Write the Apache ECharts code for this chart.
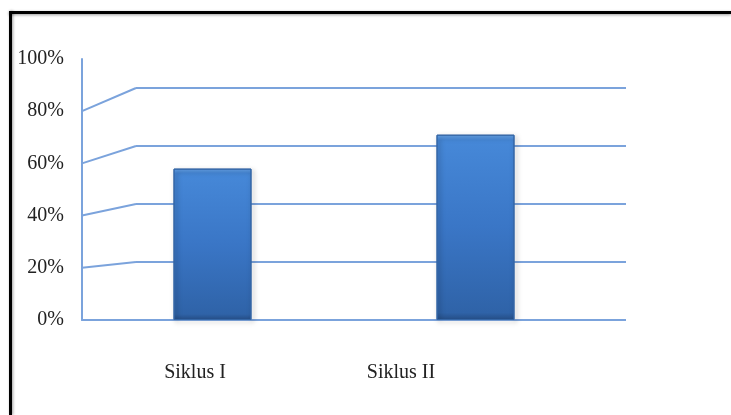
<!DOCTYPE html>
<html>
<head>
<meta charset="utf-8">
<script src="https://cdn.jsdelivr.net/npm/echarts@6/dist/echarts.min.js"></script>
<style>
html,body{margin:0;padding:0;background:#fff;}
#chart{width:731px;height:415px;}
</style>
</head>
<body>
<div id="chart"></div>
<script>
// Data
var categories = ['Siklus I', 'Siklus II'];
var values = [58, 71];
var yTicks = [0, 20, 40, 60, 80, 100];
var wallTicks = [20, 40, 60, 80];

// Layout constants
var FRONT_LEFT = 82, FRONT_TOP = 59, FRONT_H = 261, FRONT_W = 540;
var BACK_LEFT = 136, BACK_TOP = 88, BACK_H = 232, BACK_W = 490;
var LINE_COLOR = '#7ba3dc';
var FONT = '"Liberation Serif", "Times New Roman", serif';

var chart = echarts.init(document.getElementById('chart'), null, {renderer: 'canvas'});

var option = {
  animation: false,
  backgroundColor: '#ffffff',
  grid: [
    {left: FRONT_LEFT, top: FRONT_TOP, width: FRONT_W, height: FRONT_H},
    {left: BACK_LEFT, top: BACK_TOP, width: BACK_W, height: BACK_H},
    {left: 81, top: FRONT_TOP, width: 526, height: FRONT_H},
    {left: 92, top: 100, width: 412, height: 260}
  ],
  xAxis: [
    {gridIndex: 0, type: 'category', data: categories,
     axisLine: {show: true, lineStyle: {color: LINE_COLOR, width: 2}},
     axisTick: {show: false}, axisLabel: {show: false}, splitLine: {show: false}},
    {gridIndex: 1, type: 'category', data: categories, show: false},
    {gridIndex: 2, type: 'category', data: categories, show: false},
    {gridIndex: 3, type: 'category', data: categories,
     axisLine: {show: false}, axisTick: {show: false},
     axisLabel: {show: true, margin: 3, fontFamily: FONT, fontSize: 20, color: '#222'}}
  ],
  yAxis: [
    {gridIndex: 0, type: 'value', min: yTicks[0], max: yTicks[yTicks.length - 1], interval: 20,
     axisLine: {show: true, lineStyle: {color: LINE_COLOR, width: 2}},
     axisTick: {show: false}, splitLine: {show: false},
     axisLabel: {formatter: '{value}%', margin: 18, fontFamily: FONT, fontSize: 20, color: '#222'}},
    {gridIndex: 1, type: 'value', min: 0, max: 80, interval: 20,
     axisLine: {show: false}, axisTick: {show: false}, axisLabel: {show: false},
     splitLine: {show: true, lineStyle: {color: LINE_COLOR, width: 2}}},
    {gridIndex: 2, type: 'value', min: 0, max: 100, interval: 20, show: false},
    {gridIndex: 3, type: 'value', show: false}
  ],
  series: [{
    type: 'bar',
    xAxisIndex: 2, yAxisIndex: 2,
    data: values,
    barWidth: 78,
    itemStyle: {
      color: new echarts.graphic.LinearGradient(0, 0, 0, 1, [
        {offset: 0, color: '#6aa8ee'},
        {offset: 0.03, color: '#4688d8'},
        {offset: 0.5, color: '#3a76c6'},
        {offset: 0.96, color: '#2f63a8'},
        {offset: 1, color: '#264f88'}
      ]),
      borderColor: '#3466a6',
      borderWidth: 1,
      shadowBlur: 5,
      shadowColor: 'rgba(0,0,0,0.35)',
      shadowOffsetX: 2,
      shadowOffsetY: 2
    }
  }]
};
chart.setOption(option);

// Perspective connectors from the front axis to the back wall, via the axes' scales
var elements = [];
wallTicks.forEach(function (v) {
  var yFront = chart.convertToPixel({yAxisIndex: 0}, v);
  var yBack = chart.convertToPixel({yAxisIndex: 1}, v);
  elements.push({
    type: 'line', silent: true,
    shape: {x1: FRONT_LEFT, y1: yFront, x2: BACK_LEFT, y2: yBack},
    style: {stroke: LINE_COLOR, lineWidth: 2}
  });
});
// Frame (top and left edges)
elements.push({
  type: 'line', silent: true,
  shape: {x1: 9, y1: 12.5, x2: 731, y2: 12.5},
  style: {stroke: '#000', lineWidth: 3, shadowBlur: 3, shadowColor: 'rgba(0,0,0,0.4)', shadowOffsetY: 1}
});
elements.push({
  type: 'line', silent: true,
  shape: {x1: 10.5, y1: 11, x2: 10.5, y2: 415},
  style: {stroke: '#000', lineWidth: 3, shadowBlur: 3, shadowColor: 'rgba(0,0,0,0.4)', shadowOffsetX: 1}
});
chart.setOption({graphic: {elements: elements}});
</script>
</body>
</html>
